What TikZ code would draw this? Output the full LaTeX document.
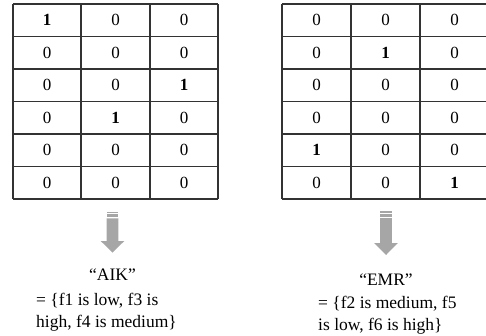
\documentclass[tikz,border=0pt]{standalone}
\usepackage{fontspec}
\setmainfont{Liberation Serif}
\begin{document}
\begin{tikzpicture}[x=1pt,y=-1pt,
  gridline/.style={line width=1.6pt, draw=black!80},
  cell/.style={font=\fontsize{17}{20}\selectfont, inner sep=0pt, anchor=center},
  lab/.style={font=\fontsize{17.5}{22}\selectfont, inner sep=0pt, anchor=base west},
  qlab/.style={font=\fontsize{17.5}{22}\selectfont, inner sep=0pt, anchor=base},
  arr/.style={fill=black!35, draw=none}]
\useasboundingbox (0,0) rectangle (486,335);

% left table grid
\foreach \x in {13,81,150,218} \draw[gridline] (\x,4) -- (\x,199);
\foreach \y in {4,36.5,69,101.5,134,166.5,199} \draw[gridline] (13,\y) -- (218,\y);
% right table grid
\foreach \x in {282,351,420,489} \draw[gridline] (\x,4) -- (\x,199);
\foreach \y in {4,36.5,69,101.5,134,166.5,199} \draw[gridline] (282,\y) -- (489,\y);

% left table cells
\foreach \r/\a/\b/\c in {1/\textbf{1}/0/0, 2/0/0/0, 3/0/0/\textbf{1}, 4/0/\textbf{1}/0, 5/0/0/0, 6/0/0/0} {
  \node[cell] (L-\r-1) at (47,{-12.25+32.5*\r}) {\a};
  \node[cell] (L-\r-2) at (115.5,{-12.25+32.5*\r}) {\b};
  \node[cell] (L-\r-3) at (184,{-12.25+32.5*\r}) {\c};
}
% right table cells
\foreach \r/\a/\b/\c in {1/0/0/0, 2/0/\textbf{1}/0, 3/0/0/0, 4/0/0/0, 5/\textbf{1}/0/0, 6/0/0/\textbf{1}} {
  \node[cell] (R-\r-1) at (316.5,{-12.25+32.5*\r}) {\a};
  \node[cell] (R-\r-2) at (385.5,{-12.25+32.5*\r}) {\b};
  \node[cell] (R-\r-3) at (454.5,{-12.25+32.5*\r}) {\c};
}

% left striped arrow
\fill[arr] (106.7,211.7) rectangle (118.3,213.3);
\fill[arr] (106.7,214.3) rectangle (118.3,216.7);
\fill[arr] (106.7,218.3) -- (118.3,218.3) -- (118.3,241) -- (124.3,241)
  -- (112.5,252.5) -- (100.7,241) -- (106.7,241) -- cycle;

% right striped arrow
\fill[arr] (380.2,211) rectangle (391.8,212.7);
\fill[arr] (380.2,214) rectangle (391.8,216.5);
\fill[arr] (380.2,218) -- (391.8,218) -- (391.8,243) -- (397.8,243)
  -- (386,255) -- (374.2,243) -- (380.2,243) -- cycle;

% left labels
\node[qlab] (aik) at (112.5,280) {“AIK”};
\node[lab] (aik1) at (36,305) {= \{f1 is low, f3 is};
\node[lab] (aik2) at (36,327) {high, f4 is medium\}};

% right labels
\node[qlab] (emr) at (386,285) {“EMR”};
\node[lab] (emr1) at (318,308) {= \{f2 is medium, f5};
\node[lab] (emr2) at (318,330) {is low, f6 is high\}};
\end{tikzpicture}
\end{document}
